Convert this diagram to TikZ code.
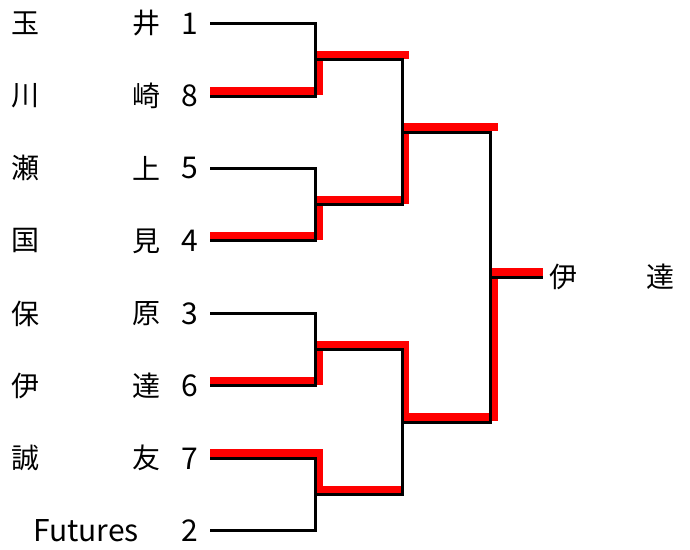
\documentclass[tikz,border=0pt]{standalone}
\usepackage{fontspec}
\newfontfamily\jpfont{Noto Sans CJK JP}

\begin{document}
\begin{tikzpicture}[x=1pt, y=-1pt,
    every node/.style={inner sep=0pt, font=\jpfont\fontsize{28}{28}\selectfont},
    seed/.style={font=\jpfont\fontsize{30}{30}\selectfont},
    wire/.style={line width=3pt, black},
    win/.style={line width=8pt, red},
    lift/.style={shift={(3,-5)}},
    liftup/.style={yshift=5pt}]

    \useasboundingbox (0,0) rectangle (690,549);

    % players
    \node (a1) at (26,23.5) {玉};   \node (b1) at (146,23.5) {井};   \node[seed] (n1) at (189.5,23.5) {1};
    \node (a2) at (26,96) {川};     \node (b2) at (146,96) {崎};     \node[seed] (n2) at (189.5,96) {8};
    \node (a3) at (26,168.4) {瀬};  \node (b3) at (146,168.4) {上};  \node[seed] (n3) at (189.5,168.4) {5};
    \node (a4) at (26,240.9) {国};  \node (b4) at (146,240.9) {見};  \node[seed] (n4) at (189.5,240.9) {4};
    \node (a5) at (26,313.4) {保};  \node (b5) at (146,313.4) {原};  \node[seed] (n5) at (189.5,313.4) {3};
    \node (a6) at (26,385.9) {伊};  \node (b6) at (146,385.9) {達};  \node[seed] (n6) at (189.5,385.9) {6};
    \node (a7) at (26,458.3) {誠};  \node (b7) at (146,458.3) {友};  \node[seed] (n7) at (189.5,458.3) {7};
    \node[seed] (b8) at (86,530.8) {Futures};                      \node[seed] (n8) at (189.5,530.8) {2};

    % winner
    \node (c1) at (563,277.1) {伊};
    \node (c2) at (660,277.1) {達};

    % bracket points
    \coordinate (e1) at (210,23.5);
    \coordinate (e2) at (210,96);
    \coordinate (e3) at (210,168.4);
    \coordinate (e4) at (210,240.9);
    \coordinate (e5) at (210,313.4);
    \coordinate (e6) at (210,385.9);
    \coordinate (e7) at (210,458.3);
    \coordinate (e8) at (210,530.8);

    \coordinate (q1) at (315.5,59.7);
    \coordinate (q2) at (315.5,204.6);
    \coordinate (q3) at (315.5,349.6);
    \coordinate (q4) at (315.5,494.5);

    \coordinate (s1) at (402,132.2);
    \coordinate (s2) at (402,422.1);

    \coordinate (f) at (490.5,277.1);
    \coordinate (champ) at (543,277.1);

    % winners' paths
    \draw[win] ([liftup]e2) -| ([lift]q1) -- ++(90,0);
    \draw[win] ([liftup]e4) -| ([lift]q2) -| ([lift]s1) -- ++(92.5,0);
    \draw[win] ([liftup]e6) -| ([lift]q3) -| ([lift]s2) -| ([lift]f) -- ([liftup]champ);
    \draw[win] ([liftup]e7) -| ([lift]q4) -- ++(83,0);

    % bracket
    \draw[wire] (e1) -| (q1) |- (e2);
    \draw[wire] (e3) -| (q2) |- (e4);
    \draw[wire] (e5) -| (q3) |- (e6);
    \draw[wire] (e7) -| (q4) |- (e8);
    \draw[wire] (q1) -| (s1) |- (q2);
    \draw[wire] (q3) -| (s2) |- (q4);
    \draw[wire] (s1) -| (f) |- (s2);
    \draw[wire] (f) -- (champ);

\end{tikzpicture}
\end{document}
